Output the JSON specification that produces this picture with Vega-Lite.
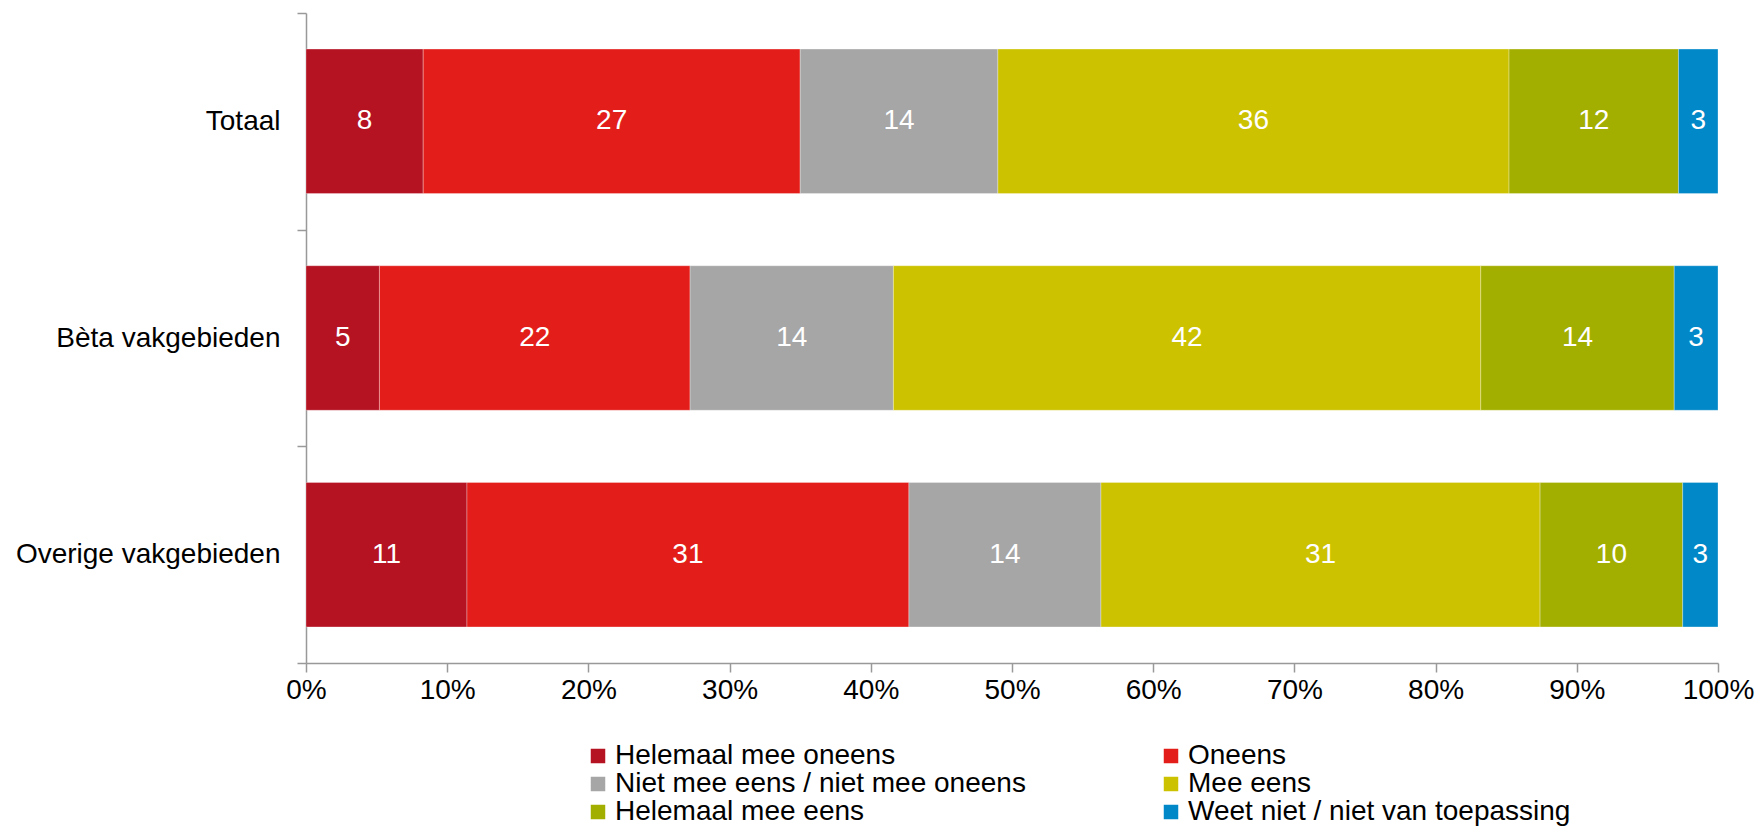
{
  "$schema": "https://vega.github.io/schema/vega-lite/v6.json",
  "width": 1412,
  "height": 650,
  "autosize": {"type": "none"},
  "padding": {"left": 306, "top": 13, "right": 40, "bottom": 165},
  "background": "white",
  "config": {
    "view": {"stroke": null},
    "font": "Liberation Sans",
    "axis": {"labelFont": "Liberation Sans", "labelColor": "#000000", "grid": false},
    "legend": {"labelFont": "Liberation Sans"}
  },
  "data": {
    "values": [
      {"groep": "Totaal", "antwoord": "Helemaal mee oneens", "volgorde": 1, "waarde": 8.3},
      {"groep": "Totaal", "antwoord": "Oneens", "volgorde": 2, "waarde": 26.7},
      {"groep": "Totaal", "antwoord": "Niet mee eens / niet mee oneens", "volgorde": 3, "waarde": 14.0},
      {"groep": "Totaal", "antwoord": "Mee eens", "volgorde": 4, "waarde": 36.2},
      {"groep": "Totaal", "antwoord": "Helemaal mee eens", "volgorde": 5, "waarde": 12.0},
      {"groep": "Totaal", "antwoord": "Weet niet / niet van toepassing", "volgorde": 6, "waarde": 2.8},
      {"groep": "Bèta vakgebieden", "antwoord": "Helemaal mee oneens", "volgorde": 1, "waarde": 5.2},
      {"groep": "Bèta vakgebieden", "antwoord": "Oneens", "volgorde": 2, "waarde": 22.0},
      {"groep": "Bèta vakgebieden", "antwoord": "Niet mee eens / niet mee oneens", "volgorde": 3, "waarde": 14.4},
      {"groep": "Bèta vakgebieden", "antwoord": "Mee eens", "volgorde": 4, "waarde": 41.6},
      {"groep": "Bèta vakgebieden", "antwoord": "Helemaal mee eens", "volgorde": 5, "waarde": 13.7},
      {"groep": "Bèta vakgebieden", "antwoord": "Weet niet / niet van toepassing", "volgorde": 6, "waarde": 3.1},
      {"groep": "Overige vakgebieden", "antwoord": "Helemaal mee oneens", "volgorde": 1, "waarde": 11.4},
      {"groep": "Overige vakgebieden", "antwoord": "Oneens", "volgorde": 2, "waarde": 31.3},
      {"groep": "Overige vakgebieden", "antwoord": "Niet mee eens / niet mee oneens", "volgorde": 3, "waarde": 13.6},
      {"groep": "Overige vakgebieden", "antwoord": "Mee eens", "volgorde": 4, "waarde": 31.1},
      {"groep": "Overige vakgebieden", "antwoord": "Helemaal mee eens", "volgorde": 5, "waarde": 10.1},
      {"groep": "Overige vakgebieden", "antwoord": "Weet niet / niet van toepassing", "volgorde": 6, "waarde": 2.5}
    ]
  },
  "encoding": {
    "y": {
      "field": "groep",
      "type": "nominal",
      "sort": ["Totaal", "Bèta vakgebieden", "Overige vakgebieden"],
      "title": null,
      "scale": {"paddingInner": 0, "paddingOuter": 0},
      "axis": {
        "tickBand": "extent",
        "domainColor": "#999999",
        "domainWidth": 1.5,
        "tickColor": "#999999",
        "tickWidth": 1.5,
        "tickSize": 9,
        "labelFontSize": 28,
        "labelPadding": 17,
        "labelLimit": 400
      }
    },
    "x": {
      "field": "waarde",
      "type": "quantitative",
      "stack": "zero",
      "title": null,
      "scale": {"domain": [0, 100], "nice": false},
      "axis": {
        "values": [0, 10, 20, 30, 40, 50, 60, 70, 80, 90, 100],
        "labelExpr": "datum.value + '%'",
        "domainColor": "#999999",
        "domainWidth": 1.5,
        "tickColor": "#999999",
        "tickWidth": 1.5,
        "tickSize": 9,
        "labelFontSize": 28,
        "labelPadding": 4,
        "labelFlush": false,
        "labelOverlap": false
      }
    },
    "order": {"field": "volgorde", "type": "quantitative"}
  },
  "layer": [
    {
      "mark": {"type": "bar", "height": {"band": 0.667}, "stroke": "white", "strokeWidth": 1, "strokeOpacity": 0.3},
      "encoding": {
        "color": {
          "field": "antwoord",
          "type": "nominal",
          "title": null,
          "scale": {
            "domain": ["Helemaal mee oneens", "Oneens", "Niet mee eens / niet mee oneens", "Mee eens", "Helemaal mee eens", "Weet niet / niet van toepassing"],
            "range": ["#B51222", "#E31E1A", "#A6A6A6", "#CCC200", "#A3AF00", "#0088C8"]
          },
          "legend": {
            "orient": "none",
            "legendX": 278,
            "legendY": 729,
            "direction": "horizontal",
            "columns": 2,
            "columnPadding": 131,
            "rowPadding": -3,
            "symbolType": "square",
            "symbolSize": 210,
            "symbolStrokeWidth": 0,
            "labelFontSize": 28,
            "labelOffset": 3,
            "labelLimit": 600,
            "labelColor": "#000000"
          }
        }
      }
    },
    {
      "mark": {"type": "text", "color": "white", "fontSize": 28, "font": "Liberation Sans", "align": "center", "baseline": "middle"},
      "encoding": {
        "x": {"field": "waarde", "type": "quantitative", "stack": "zero", "bandPosition": 0.5},
        "text": {"field": "waarde", "type": "quantitative", "format": ".0f"}
      }
    }
  ]
}
